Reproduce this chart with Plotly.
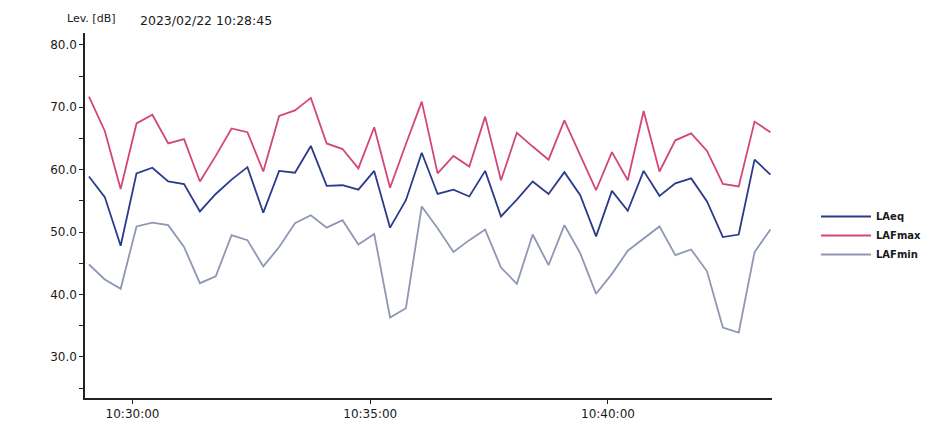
import plotly.graph_objects as go

# ---- data ----
times = [
    "2023-02-22 10:29:05", "2023-02-22 10:29:25", "2023-02-22 10:29:45",
    "2023-02-22 10:30:05", "2023-02-22 10:30:25", "2023-02-22 10:30:45",
    "2023-02-22 10:31:05", "2023-02-22 10:31:25", "2023-02-22 10:31:45",
    "2023-02-22 10:32:05", "2023-02-22 10:32:25", "2023-02-22 10:32:45",
    "2023-02-22 10:33:05", "2023-02-22 10:33:25", "2023-02-22 10:33:45",
    "2023-02-22 10:34:05", "2023-02-22 10:34:25", "2023-02-22 10:34:45",
    "2023-02-22 10:35:05", "2023-02-22 10:35:25", "2023-02-22 10:35:45",
    "2023-02-22 10:36:05", "2023-02-22 10:36:25", "2023-02-22 10:36:45",
    "2023-02-22 10:37:05", "2023-02-22 10:37:25", "2023-02-22 10:37:45",
    "2023-02-22 10:38:05", "2023-02-22 10:38:25", "2023-02-22 10:38:45",
    "2023-02-22 10:39:05", "2023-02-22 10:39:25", "2023-02-22 10:39:45",
    "2023-02-22 10:40:05", "2023-02-22 10:40:25", "2023-02-22 10:40:45",
    "2023-02-22 10:41:05", "2023-02-22 10:41:25", "2023-02-22 10:41:45",
    "2023-02-22 10:42:05", "2023-02-22 10:42:25", "2023-02-22 10:42:45",
    "2023-02-22 10:43:05", "2023-02-22 10:43:25",
]

laeq = [58.9, 55.6, 47.8, 59.4, 60.3, 58.1, 57.7, 53.3, 56.1, 58.4,
        60.4, 53.1, 59.8, 59.5, 63.8, 57.4, 57.5, 56.8, 59.8, 50.7,
        55.1, 62.7, 56.1, 56.8, 55.7, 59.8, 52.5, 55.2, 58.1, 56.1,
        59.6, 55.9, 49.3, 56.6, 53.4, 59.8, 55.8, 57.8, 58.6, 54.9,
        49.2, 49.6, 61.6, 59.2]

lafmax = [71.7, 66.2, 56.9, 67.4, 68.8, 64.2, 64.9, 58.1, 62.2, 66.6,
          66.0, 59.7, 68.6, 69.5, 71.5, 64.2, 63.3, 60.2, 66.8, 57.1,
          64.1, 70.9, 59.4, 62.2, 60.5, 68.5, 58.3, 65.9, 63.7, 61.6,
          67.9, 62.4, 56.7, 62.8, 58.3, 69.4, 59.7, 64.7, 65.8, 63.0,
          57.7, 57.3, 67.7, 66.0]

lafmin = [44.8, 42.4, 40.9, 50.9, 51.5, 51.1, 47.6, 41.8, 42.9, 49.5,
          48.7, 44.5, 47.6, 51.4, 52.7, 50.7, 51.9, 48.0, 49.7, 36.3,
          37.8, 54.1, 50.6, 46.8, 48.7, 50.4, 44.3, 41.7, 49.6, 44.7,
          51.1, 46.6, 40.1, 43.3, 47.0, 48.9, 50.9, 46.3, 47.2, 43.7,
          34.7, 33.9, 46.8, 50.4]

series_names = ["LAeq", "LAFmax", "LAFmin"]
series_colors = ["#2b3b8c", "#d2467c", "#8f97b4"]

y_ticks = [30, 40, 50, 60, 70, 80]
x_ticks = ["2023-02-22 10:30:00", "2023-02-22 10:35:00", "2023-02-22 10:40:00"]
x_ticklabels = ["10:30:00", "10:35:00", "10:40:00"]

title_left = "Lev. [dB]"
title_right = "2023/02/22 10:28:45"

# ---- figure ----
# the page body has an 8px margin, so the figure is sized to fill the rest
FONT = "DejaVu Sans, Verdana, sans-serif"
W, H = 934, 429
L, R, T, B = 77, 170, 25, 39

fig = go.Figure()
for name, vals, col in zip(series_names, [laeq, lafmax, lafmin], series_colors):
    fig.add_trace(go.Scatter(
        x=times, y=vals, mode="lines", name=name,
        line=dict(color=col, width=1.8),
    ))

fig.update_layout(
    width=W, height=H,
    margin=dict(l=L, r=R, t=T, b=B),
    paper_bgcolor="white", plot_bgcolor="white",
    font=dict(family=FONT, size=12, color="#1a1a1a"),
    showlegend=True,
    legend=dict(
        xref="container", yref="container",
        x=808 / W, y=1 - 194 / H, xanchor="left", yanchor="top",
        font=dict(family=FONT, size=10, color="#1a1a1a", weight="bold"),
        tracegroupgap=0, itemwidth=50,
        bgcolor="rgba(0,0,0,0)",
    ),
    xaxis=dict(
        type="date", automargin=False,
        range=["2023-02-22 10:29:00", "2023-02-22 10:43:27"],
        tickvals=x_ticks, ticktext=x_ticklabels,
        showline=True, linecolor="#222", linewidth=1.5,
        ticks="outside", ticklen=4, tickcolor="#222",
        showgrid=False, zeroline=False,
        tickfont=dict(size=12, color="#1a1a1a"),
    ),
    yaxis=dict(
        automargin=False,
        range=[23.4, 81.9],
        tickvals=y_ticks, tickformat=".1f",
        showline=True, linecolor="#222", linewidth=1.5,
        ticks="outside", ticklen=4, tickcolor="#222",
        minor=dict(dtick=5, tick0=0, ticks="outside", ticklen=4, tickcolor="#222"),
        showgrid=False, zeroline=False,
        tickfont=dict(size=12, color="#1a1a1a"),
    ),
)

plot_w = W - L - R
plot_h = H - T - B
fig.add_annotation(
    x=(57 - L) / plot_w, y=(H - B - 10) / plot_h, xref="paper", yref="paper",
    text=title_left, showarrow=False, xanchor="left", yanchor="middle",
    font=dict(size=11, color="#1a1a1a"),
)
fig.add_annotation(
    x=(130 - L) / plot_w, y=(H - B - 12) / plot_h, xref="paper", yref="paper",
    text=title_right, showarrow=False, xanchor="left", yanchor="middle",
    font=dict(size=12.5, color="#1a1a1a"),
)

fig.write_html("out.html")
